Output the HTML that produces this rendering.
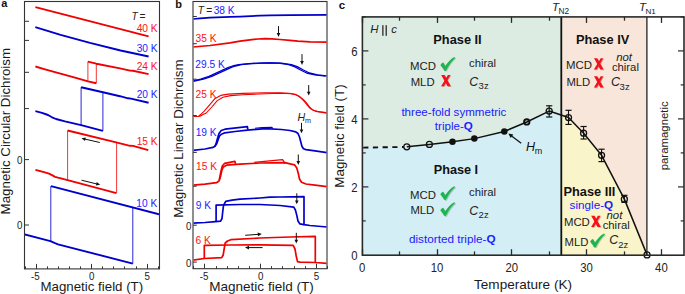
<!DOCTYPE html>
<html><head><meta charset="utf-8"><style>
html,body{margin:0;padding:0;background:#fff;}
body{width:685px;height:294px;overflow:hidden;}
svg{display:block;font-family:"Liberation Sans", sans-serif;}
</style></head><body>
<svg width="685" height="294" viewBox="0 0 685 294">
<defs><clipPath id="ca"><rect x="25" y="2" width="134" height="266.4"/></clipPath><clipPath id="cb"><rect x="193.7" y="2" width="132.8" height="266"/></clipPath></defs>
<rect width="685" height="294" fill="#fff"/>
<text x="1.2" y="6.5" font-size="11" fill="#111" text-anchor="start" font-weight="bold" font-style="normal" >a</text>
<text x="175.3" y="7.9" font-size="11" fill="#111" text-anchor="start" font-weight="bold" font-style="normal" >b</text>
<text x="338.8" y="9.2" font-size="11.5" fill="#111" text-anchor="start" font-weight="bold" font-style="normal" >c</text>
<rect x="24.5" y="1.5" width="135" height="267.4" fill="none" stroke="#333333" stroke-width="1.1"/>
<line x1="25.5" y1="268.9" x2="25.5" y2="266.4" stroke="#333333" stroke-width="1"/>
<line x1="36.5" y1="268.9" x2="36.5" y2="263.9" stroke="#333333" stroke-width="1"/>
<line x1="47.5" y1="268.9" x2="47.5" y2="266.4" stroke="#333333" stroke-width="1"/>
<line x1="58.5" y1="268.9" x2="58.5" y2="266.4" stroke="#333333" stroke-width="1"/>
<line x1="69.5" y1="268.9" x2="69.5" y2="266.4" stroke="#333333" stroke-width="1"/>
<line x1="80.5" y1="268.9" x2="80.5" y2="266.4" stroke="#333333" stroke-width="1"/>
<line x1="91.5" y1="268.9" x2="91.5" y2="263.9" stroke="#333333" stroke-width="1"/>
<line x1="102.5" y1="268.9" x2="102.5" y2="266.4" stroke="#333333" stroke-width="1"/>
<line x1="113.5" y1="268.9" x2="113.5" y2="266.4" stroke="#333333" stroke-width="1"/>
<line x1="124.5" y1="268.9" x2="124.5" y2="266.4" stroke="#333333" stroke-width="1"/>
<line x1="136.5" y1="268.9" x2="136.5" y2="266.4" stroke="#333333" stroke-width="1"/>
<line x1="147.5" y1="268.9" x2="147.5" y2="263.9" stroke="#333333" stroke-width="1"/>
<line x1="158.5" y1="268.9" x2="158.5" y2="266.4" stroke="#333333" stroke-width="1"/>
<line x1="24.5" y1="21.3" x2="29" y2="21.3" stroke="#333333" stroke-width="1"/>
<line x1="24.5" y1="40.4" x2="29" y2="40.4" stroke="#333333" stroke-width="1"/>
<line x1="24.5" y1="72.3" x2="29" y2="72.3" stroke="#333333" stroke-width="1"/>
<line x1="24.5" y1="108.6" x2="29" y2="108.6" stroke="#333333" stroke-width="1"/>
<line x1="24.5" y1="159.6" x2="29" y2="159.6" stroke="#333333" stroke-width="1"/>
<line x1="24.5" y1="225.0" x2="29" y2="225.0" stroke="#333333" stroke-width="1"/>
<text x="0" y="0" font-size="10.6" fill="#222" text-anchor="middle" font-weight="normal" font-style="normal" transform="translate(19.75,163.6) scale(0.92,1)">0</text>
<text x="0" y="0" font-size="10.6" fill="#222" text-anchor="middle" font-weight="normal" font-style="normal" transform="translate(19.75,229.0) scale(0.92,1)">0</text>
<text x="0" y="0" font-size="10.6" fill="#222" text-anchor="middle" font-weight="normal" font-style="normal" transform="translate(35.3,279.9) scale(0.92,1)">-5</text>
<text x="0" y="0" font-size="10.6" fill="#222" text-anchor="middle" font-weight="normal" font-style="normal" transform="translate(91.6,279.9) scale(0.92,1)">0</text>
<text x="0" y="0" font-size="10.6" fill="#222" text-anchor="middle" font-weight="normal" font-style="normal" transform="translate(147.1,279.9) scale(0.92,1)">5</text>
<text x="91.8" y="290.7" font-size="13.3" fill="#1a1a1a" text-anchor="middle" font-weight="normal" font-style="normal" >Magnetic field (T)</text>
<text x="0" y="0" font-size="13.32" fill="#1a1a1a" text-anchor="middle" font-weight="normal" font-style="normal" transform="translate(9.9,131.2) rotate(-90)">Magnetic Circular Dichroism</text>
<g clip-path="url(#ca)">
<polyline points="35.40,7.10 148.60,36.30" fill="none" stroke="#f00000" stroke-width="1.9" stroke-linejoin="round" stroke-linecap="butt" />
<polyline points="35.30,27.10 60.60,34.80 90.00,42.90 120.60,50.50 148.60,56.50" fill="none" stroke="#0000cc" stroke-width="1.9" stroke-linejoin="round" stroke-linecap="butt" />
<polyline points="35.40,66.50 45.00,69.30 55.00,72.10 65.00,74.80 75.00,77.60 88.00,81.40 96.30,83.30" fill="none" stroke="#f00000" stroke-width="1.9" stroke-linejoin="round" stroke-linecap="butt" />
<polyline points="96.30,83.30 96.30,63.70" fill="none" stroke="#f00000" stroke-width="0.8" stroke-linejoin="round" stroke-linecap="butt" />
<polyline points="87.90,61.60 96.30,63.70 120.00,68.40 130.00,70.60 133.00,70.80 148.60,74.10" fill="none" stroke="#f00000" stroke-width="1.9" stroke-linejoin="round" stroke-linecap="butt" />
<polyline points="87.90,61.60 87.90,81.40" fill="none" stroke="#f00000" stroke-width="0.8" stroke-linejoin="round" stroke-linecap="butt" />
<polyline points="35.40,111.20 42.00,112.80 48.00,115.00 52.00,117.30 56.00,119.00 65.00,121.40 81.10,125.20 102.90,130.90" fill="none" stroke="#0000cc" stroke-width="1.9" stroke-linejoin="round" stroke-linecap="butt" />
<polyline points="102.90,130.80 102.90,92.20" fill="none" stroke="#0000cc" stroke-width="0.85" stroke-linejoin="round" stroke-linecap="butt" />
<polyline points="81.10,87.20 102.90,92.20 120.00,96.20 128.00,98.30 131.00,98.60 148.60,102.70" fill="none" stroke="#0000cc" stroke-width="1.9" stroke-linejoin="round" stroke-linecap="butt" />
<polyline points="81.10,87.20 81.10,125.20" fill="none" stroke="#0000cc" stroke-width="0.85" stroke-linejoin="round" stroke-linecap="butt" />
<polyline points="35.40,169.80 44.00,172.20 49.00,173.60 52.00,175.20 55.00,176.80 58.00,177.70 67.60,180.10 116.40,193.10" fill="none" stroke="#f00000" stroke-width="1.9" stroke-linejoin="round" stroke-linecap="butt" />
<polyline points="116.60,193.10 116.60,142.40" fill="none" stroke="#f00000" stroke-width="0.8" stroke-linejoin="round" stroke-linecap="butt" />
<polyline points="67.60,130.50 116.20,142.40 130.00,145.80 133.00,145.90 148.30,150.20" fill="none" stroke="#f00000" stroke-width="1.9" stroke-linejoin="round" stroke-linecap="butt" />
<polyline points="67.60,130.50 67.60,179.80" fill="none" stroke="#f00000" stroke-width="0.8" stroke-linejoin="round" stroke-linecap="butt" />
<polyline points="24.60,234.50 50.40,241.20 55.00,243.20 58.00,244.30 132.80,263.60" fill="none" stroke="#0000cc" stroke-width="1.9" stroke-linejoin="round" stroke-linecap="butt" />
<polyline points="132.80,263.60 132.80,207.60" fill="none" stroke="#0000cc" stroke-width="0.85" stroke-linejoin="round" stroke-linecap="butt" />
<polyline points="51.00,186.10 159.00,214.30" fill="none" stroke="#0000cc" stroke-width="1.9" stroke-linejoin="round" stroke-linecap="butt" />
<polyline points="50.80,186.10 50.80,241.20" fill="none" stroke="#0000cc" stroke-width="0.85" stroke-linejoin="round" stroke-linecap="butt" />
</g>
<line x1="99.80" y1="142.50" x2="84.91" y2="139.08" stroke="#111" stroke-width="1.0"/>
<polygon points="81.50,138.30 85.80,137.44 85.00,140.95" fill="#111"/>
<line x1="81.60" y1="180.20" x2="96.80" y2="183.96" stroke="#111" stroke-width="1.0"/>
<polygon points="100.20,184.80 95.88,185.59 96.75,182.09" fill="#111"/>
<text x="131.5" y="20.3" font-size="10.2" fill="#222" text-anchor="start" font-weight="normal" font-style="italic" >T</text>
<text x="139.6" y="20.3" font-size="10.2" fill="#222" text-anchor="start" font-weight="normal" font-style="normal" >=</text>
<text x="157.6" y="31.6" font-size="10.2" fill="#ff1010" text-anchor="end" font-weight="normal" font-style="normal" >40 K</text>
<text x="157.6" y="52.0" font-size="10.2" fill="#2222ff" text-anchor="end" font-weight="normal" font-style="normal" >30 K</text>
<text x="157.6" y="70.4" font-size="10.2" fill="#ff1010" text-anchor="end" font-weight="normal" font-style="normal" >24 K</text>
<text x="157.6" y="97.6" font-size="10.2" fill="#2222ff" text-anchor="end" font-weight="normal" font-style="normal" >20 K</text>
<text x="157.6" y="144.5" font-size="10.2" fill="#ff1010" text-anchor="end" font-weight="normal" font-style="normal" >15 K</text>
<text x="157.2" y="206.6" font-size="10.2" fill="#2222ff" text-anchor="end" font-weight="normal" font-style="normal" >10 K</text>
<rect x="193" y="1.5" width="134" height="267.2" fill="none" stroke="#333333" stroke-width="1.1"/>
<line x1="193.5" y1="268.7" x2="193.5" y2="266.2" stroke="#333333" stroke-width="1"/>
<line x1="204.5" y1="268.7" x2="204.5" y2="263.7" stroke="#333333" stroke-width="1"/>
<line x1="216.5" y1="268.7" x2="216.5" y2="266.2" stroke="#333333" stroke-width="1"/>
<line x1="227.5" y1="268.7" x2="227.5" y2="266.2" stroke="#333333" stroke-width="1"/>
<line x1="238.5" y1="268.7" x2="238.5" y2="266.2" stroke="#333333" stroke-width="1"/>
<line x1="249.5" y1="268.7" x2="249.5" y2="266.2" stroke="#333333" stroke-width="1"/>
<line x1="260.5" y1="268.7" x2="260.5" y2="263.7" stroke="#333333" stroke-width="1"/>
<line x1="271.5" y1="268.7" x2="271.5" y2="266.2" stroke="#333333" stroke-width="1"/>
<line x1="282.5" y1="268.7" x2="282.5" y2="266.2" stroke="#333333" stroke-width="1"/>
<line x1="294.5" y1="268.7" x2="294.5" y2="266.2" stroke="#333333" stroke-width="1"/>
<line x1="305.5" y1="268.7" x2="305.5" y2="266.2" stroke="#333333" stroke-width="1"/>
<line x1="316.5" y1="268.7" x2="316.5" y2="263.7" stroke="#333333" stroke-width="1"/>
<line x1="327.5" y1="268.7" x2="327.5" y2="266.2" stroke="#333333" stroke-width="1"/>
<line x1="193" y1="16.5" x2="196.8" y2="16.5" stroke="#333333" stroke-width="1"/>
<line x1="193" y1="43.7" x2="196.8" y2="43.7" stroke="#333333" stroke-width="1"/>
<line x1="193" y1="79.2" x2="196.8" y2="79.2" stroke="#333333" stroke-width="1"/>
<line x1="193" y1="115.5" x2="196.8" y2="115.5" stroke="#333333" stroke-width="1"/>
<line x1="193" y1="152.4" x2="196.8" y2="152.4" stroke="#333333" stroke-width="1"/>
<line x1="193" y1="186.2" x2="196.8" y2="186.2" stroke="#333333" stroke-width="1"/>
<line x1="193" y1="225.2" x2="196.8" y2="225.2" stroke="#333333" stroke-width="1"/>
<line x1="193" y1="262.1" x2="196.8" y2="262.1" stroke="#333333" stroke-width="1"/>
<text x="0" y="0" font-size="10.6" fill="#222" text-anchor="middle" font-weight="normal" font-style="normal" transform="translate(188.6,230.0) scale(0.92,1)">0</text>
<text x="0" y="0" font-size="10.6" fill="#222" text-anchor="middle" font-weight="normal" font-style="normal" transform="translate(188.6,266.9) scale(0.92,1)">0</text>
<text x="0" y="0" font-size="10.6" fill="#222" text-anchor="middle" font-weight="normal" font-style="normal" transform="translate(204.05,279.9) scale(0.92,1)">-5</text>
<text x="0" y="0" font-size="10.6" fill="#222" text-anchor="middle" font-weight="normal" font-style="normal" transform="translate(260.6,279.9) scale(0.92,1)">0</text>
<text x="0" y="0" font-size="10.6" fill="#222" text-anchor="middle" font-weight="normal" font-style="normal" transform="translate(316.35,279.9) scale(0.92,1)">5</text>
<text x="261.5" y="290.7" font-size="13.55" fill="#1a1a1a" text-anchor="middle" font-weight="normal" font-style="normal" >Magnetic field (T)</text>
<g clip-path="url(#cb)">
<polyline points="193.00,19.00 200.00,18.40 210.00,17.70 230.00,16.90 240.00,16.60 260.00,15.70 270.00,15.30 290.00,15.10 327.00,14.80" fill="none" stroke="#0000cc" stroke-width="1.7" stroke-linejoin="round" stroke-linecap="butt" />
<polyline points="193.00,47.00 210.00,45.50 230.00,42.80 240.00,41.20 250.00,39.90 258.00,39.00 265.00,38.60 272.00,38.80 280.00,39.50 290.00,40.40 298.00,41.20 310.00,41.80 327.00,42.20" fill="none" stroke="#f00000" stroke-width="1.7" stroke-linejoin="round" stroke-linecap="butt" />
<polyline points="189.60,81.30 191.60,81.20 200.60,79.20 209.00,76.30 216.60,72.80 225.30,68.90 228.60,67.40 232.60,66.00 238.60,64.70 248.60,63.70 258.60,63.10 268.60,62.90 278.60,63.10 288.60,64.60 294.40,66.60 300.60,70.00 306.60,73.00 314.80,74.90 325.60,76.10" fill="none" stroke="#0000cc" stroke-width="1.3" stroke-linejoin="round" stroke-linecap="butt" />
<polyline points="192.40,81.30 194.40,81.20 203.40,79.20 211.80,76.30 219.40,72.80 228.10,68.90 231.40,67.40 235.40,66.00 241.40,64.70 251.40,63.70 261.40,63.10 271.40,62.90 281.40,63.10 291.40,64.60 297.20,66.60 303.40,70.00 309.40,73.00 317.60,74.90 328.40,76.10" fill="none" stroke="#0000cc" stroke-width="1.3" stroke-linejoin="round" stroke-linecap="butt" />
<polyline points="191.00,116.60 198.50,116.20 201.00,114.20 204.00,111.40 209.60,104.80 215.10,98.40 220.70,95.40 228.40,94.10 243.00,93.40 265.00,92.70 279.30,92.70 289.30,93.20 295.10,94.30 298.30,96.00 300.60,97.80 302.80,99.90 305.10,102.30 307.30,105.20 309.50,107.80 311.80,109.50 313.90,110.50 317.30,111.40 320.50,111.80 326.30,112.60" fill="none" stroke="#f00000" stroke-width="1.1" stroke-linejoin="round" stroke-linecap="butt" />
<polyline points="191.00,116.60 200.00,116.20 203.00,114.60 206.30,113.00 211.80,107.00 217.30,100.60 222.90,97.20 230.60,95.60 243.00,94.70 265.00,93.70 280.70,93.30 290.70,93.80 296.50,94.90 299.70,96.60 302.00,98.40 304.20,100.50 306.50,102.90 308.70,105.80 310.90,108.40 313.20,110.10 315.30,111.10 318.70,112.00 321.90,112.40 327.70,113.20" fill="none" stroke="#f00000" stroke-width="1.1" stroke-linejoin="round" stroke-linecap="butt" />
<polyline points="193.00,150.30 205.00,149.00 212.90,147.40 215.00,146.20 216.80,143.50 218.20,139.50 219.60,135.80 221.50,134.20 224.80,132.80 235.00,131.50 247.40,130.20 265.00,128.60 281.50,129.50 290.00,130.50 295.80,131.80 298.00,133.50 299.50,137.00 300.80,142.00 302.00,146.50 303.50,148.80 306.00,149.60 315.00,150.80 327.00,152.70" fill="none" stroke="#0000cc" stroke-width="1.7" stroke-linejoin="round" stroke-linecap="butt" />
<polyline points="215.00,146.20 216.20,143.00 217.50,138.50 219.00,133.50 221.20,130.50 225.00,129.20 247.40,126.70 247.80,129.30" fill="none" stroke="#0000cc" stroke-width="1.7" stroke-linejoin="round" stroke-linecap="butt" />
<polyline points="255.00,128.30 262.00,127.60 272.00,127.30 272.60,128.80" fill="none" stroke="#0000cc" stroke-width="1.1" stroke-linejoin="round" stroke-linecap="butt" />
<polyline points="193.00,185.10 205.00,184.20 216.50,182.70 219.00,181.00 220.50,176.50 221.80,170.50 223.30,167.00 226.50,165.20 240.00,164.20 260.00,163.00 284.80,162.70 294.50,164.80 296.80,168.00 298.30,173.50 299.50,179.00 301.50,182.20 306.00,184.00 315.00,185.20 327.00,186.70" fill="none" stroke="#f00000" stroke-width="1.7" stroke-linejoin="round" stroke-linecap="butt" />
<polyline points="219.30,180.00 220.80,172.00 222.30,166.00 224.70,163.30 234.90,161.30 235.60,163.90" fill="none" stroke="#f00000" stroke-width="1.7" stroke-linejoin="round" stroke-linecap="butt" />
<polyline points="254.20,162.30 282.60,159.70 285.30,163.60" fill="none" stroke="#f00000" stroke-width="1.2" stroke-linejoin="round" stroke-linecap="butt" />
<polyline points="193.00,223.20 205.00,222.50 215.50,221.60 220.60,221.10 222.00,218.50 222.70,212.00 223.50,205.50 225.70,201.30 232.00,200.20 240.00,199.20 260.00,198.00 270.00,197.20 280.00,197.00 304.00,196.70 304.00,224.60 310.00,225.50 327.00,227.00" fill="none" stroke="#0000cc" stroke-width="1.7" stroke-linejoin="round" stroke-linecap="butt" />
<polyline points="216.10,221.60 216.10,205.20 240.00,204.50 260.00,204.50 280.00,205.50 293.80,207.20 295.40,210.00 296.80,215.40 298.00,221.00 299.80,223.80 304.00,224.60" fill="none" stroke="#0000cc" stroke-width="1.7" stroke-linejoin="round" stroke-linecap="butt" />
<polyline points="193.00,260.20 204.30,258.50 221.70,257.70 223.20,255.00 224.30,248.00 225.20,243.00 227.50,241.00 230.90,239.70 260.00,238.00 290.00,237.00 315.30,236.30 315.30,262.50 327.00,263.40" fill="none" stroke="#f00000" stroke-width="1.7" stroke-linejoin="round" stroke-linecap="butt" />
<polyline points="204.30,258.70 204.30,245.40 230.00,245.00 260.00,244.90 293.20,245.40 295.00,249.00 296.20,256.00 297.50,261.60 300.00,262.20 315.30,262.50" fill="none" stroke="#f00000" stroke-width="1.7" stroke-linejoin="round" stroke-linecap="butt" />
</g>
<line x1="245.20" y1="235.30" x2="258.31" y2="234.35" stroke="#111" stroke-width="1.0"/>
<polygon points="261.80,234.10 257.94,236.18 257.68,232.59" fill="#111"/>
<line x1="262.60" y1="247.60" x2="248.50" y2="247.60" stroke="#111" stroke-width="1.0"/>
<polygon points="245.00,247.60 249.00,245.80 249.00,249.40" fill="#111"/>
<line x1="278.50" y1="26.10" x2="278.50" y2="33.60" stroke="#111" stroke-width="1.0"/>
<polygon points="278.50,36.90 276.70,33.10 280.30,33.10" fill="#111"/>
<line x1="302.00" y1="54.10" x2="302.00" y2="61.60" stroke="#111" stroke-width="1.0"/>
<polygon points="302.00,64.90 300.20,61.10 303.80,61.10" fill="#111"/>
<line x1="308.70" y1="85.10" x2="308.70" y2="92.20" stroke="#111" stroke-width="1.0"/>
<polygon points="308.70,95.50 306.90,91.70 310.50,91.70" fill="#111"/>
<line x1="301.50" y1="122.90" x2="301.50" y2="130.00" stroke="#111" stroke-width="1.0"/>
<polygon points="301.50,133.30 299.70,129.50 303.30,129.50" fill="#111"/>
<line x1="298.30" y1="154.50" x2="298.30" y2="161.60" stroke="#111" stroke-width="1.0"/>
<polygon points="298.30,164.90 296.50,161.10 300.10,161.10" fill="#111"/>
<line x1="296.80" y1="193.30" x2="296.80" y2="201.00" stroke="#111" stroke-width="1.0"/>
<polygon points="296.80,204.30 295.00,200.50 298.60,200.50" fill="#111"/>
<line x1="296.30" y1="232.80" x2="296.30" y2="240.30" stroke="#111" stroke-width="1.0"/>
<polygon points="296.30,243.60 294.50,239.80 298.10,239.80" fill="#111"/>
<text x="197.7" y="14.0" font-size="10.2" fill="#222" text-anchor="start" font-weight="normal" font-style="italic" >T</text>
<text x="206.2" y="14.0" font-size="10.2" fill="#222" text-anchor="start" font-weight="normal" font-style="normal" >=</text>
<text x="213.7" y="14.0" font-size="10.2" fill="#2222ff" text-anchor="start" font-weight="normal" font-style="normal" >38 K</text>
<text x="195.6" y="41.8" font-size="10.2" fill="#ff1010" text-anchor="start" font-weight="normal" font-style="normal" >35 K</text>
<text x="195.3" y="67.5" font-size="10.2" fill="#2222ff" text-anchor="start" font-weight="normal" font-style="normal" >29.5 K</text>
<text x="195.6" y="98.0" font-size="10.2" fill="#ff1010" text-anchor="start" font-weight="normal" font-style="normal" >25 K</text>
<text x="195.7" y="135.7" font-size="10.2" fill="#2222ff" text-anchor="start" font-weight="normal" font-style="normal" >19 K</text>
<text x="196.0" y="169.8" font-size="10.2" fill="#ff1010" text-anchor="start" font-weight="normal" font-style="normal" >15 K</text>
<text x="195.7" y="209.2" font-size="10.2" fill="#2222ff" text-anchor="start" font-weight="normal" font-style="normal" >9 K</text>
<text x="195.6" y="244.0" font-size="10.2" fill="#ff1010" text-anchor="start" font-weight="normal" font-style="normal" >6 K</text>
<text x="297.4" y="120.9" font-size="10.6" fill="#222" text-anchor="start" font-weight="normal" font-style="italic" >H</text>
<text x="304.9" y="122.8" font-size="7.2" fill="#222" text-anchor="start" font-weight="normal" font-style="normal" >m</text>
<text x="0" y="0" font-size="13.4" fill="#1a1a1a" text-anchor="middle" font-weight="normal" font-style="normal" transform="translate(183.3,138.6) rotate(-90)">Magnetic Linear Dichroism</text>
<polygon points="362.40,16.90 561.30,16.90 561.30,115.13 549.20,111.08 526.76,121.96 504.32,131.48 474.33,138.62 452.48,141.68 429.37,144.40 406.78,146.78 362.40,148.00" fill="#ddece2" stroke="none"/>
<polygon points="362.40,148.00 406.78,146.78 429.37,144.40 452.48,141.68 474.33,138.62 504.32,131.48 526.76,121.96 549.20,111.08 561.30,115.13 561.30,255.20 362.40,255.20" fill="#d3eef5" stroke="none"/>
<polygon points="561.30,16.90 646.90,16.90 646.90,255.20 647.04,254.90 624.37,199.14 601.56,155.28 583.61,133.18 568.50,117.54 561.30,115.13" fill="#f7e6d9" stroke="none"/>
<polygon points="561.30,115.13 568.50,117.54 583.61,133.18 601.56,155.28 624.37,199.14 647.04,254.90 561.30,255.20" fill="#f9f4ca" stroke="none"/>
<line x1="363.2" y1="147.6" x2="403.7808" y2="146.98" stroke="#111" stroke-width="1.9" stroke-dasharray="5.2,4.5"/>
<polyline points="406.78,146.78 429.37,144.40 452.48,141.68 474.33,138.62 504.32,131.48 526.76,121.96 549.20,111.08 568.50,117.54 583.61,133.18 601.56,155.28 624.37,199.14 647.04,254.90" fill="none" stroke="#111" stroke-width="1.5" stroke-linejoin="round" stroke-linecap="butt" />
<line x1="561.3" y1="16.9" x2="561.3" y2="255.2" stroke="#111" stroke-width="1.8"/>
<line x1="646.9" y1="16.9" x2="646.9" y2="255.2" stroke="#222" stroke-width="1.3"/>
<line x1="549.2" y1="105.8" x2="549.2" y2="117.0" stroke="#111" stroke-width="1.1"/>
<line x1="546.1" y1="105.8" x2="552.3000000000001" y2="105.8" stroke="#111" stroke-width="1.2"/>
<line x1="546.1" y1="117.0" x2="552.3000000000001" y2="117.0" stroke="#111" stroke-width="1.2"/>
<line x1="568.4984" y1="110.3" x2="568.4984" y2="124.4" stroke="#111" stroke-width="1.1"/>
<line x1="565.3983999999999" y1="110.3" x2="571.5984" y2="110.3" stroke="#111" stroke-width="1.2"/>
<line x1="565.3983999999999" y1="124.4" x2="571.5984" y2="124.4" stroke="#111" stroke-width="1.2"/>
<line x1="583.608" y1="126.5" x2="583.608" y2="139.0" stroke="#111" stroke-width="1.1"/>
<line x1="580.5079999999999" y1="126.5" x2="586.708" y2="126.5" stroke="#111" stroke-width="1.2"/>
<line x1="580.5079999999999" y1="139.0" x2="586.708" y2="139.0" stroke="#111" stroke-width="1.2"/>
<line x1="601.56" y1="149.2" x2="601.56" y2="161.6" stroke="#111" stroke-width="1.1"/>
<line x1="598.4599999999999" y1="149.2" x2="604.66" y2="149.2" stroke="#111" stroke-width="1.2"/>
<line x1="598.4599999999999" y1="161.6" x2="604.66" y2="161.6" stroke="#111" stroke-width="1.2"/>
<line x1="624.374" y1="195.3" x2="624.374" y2="202.3" stroke="#111" stroke-width="1.1"/>
<line x1="621.274" y1="195.3" x2="627.474" y2="195.3" stroke="#111" stroke-width="1.2"/>
<line x1="621.274" y1="202.3" x2="627.474" y2="202.3" stroke="#111" stroke-width="1.2"/>
<circle cx="406.78" cy="146.78" r="3.0" fill="none" stroke="#111" stroke-width="1.3"/>
<circle cx="429.37" cy="144.40" r="3.0" fill="none" stroke="#111" stroke-width="1.3"/>
<circle cx="452.48" cy="141.68" r="3.25" fill="#111"/>
<circle cx="474.33" cy="138.62" r="3.25" fill="#111"/>
<circle cx="504.32" cy="131.48" r="3.25" fill="#111"/>
<circle cx="526.76" cy="121.96" r="2.7" fill="none" stroke="#111" stroke-width="1.9"/>
<circle cx="549.20" cy="111.08" r="3.0" fill="none" stroke="#111" stroke-width="1.3"/>
<circle cx="568.50" cy="117.54" r="3.0" fill="none" stroke="#111" stroke-width="1.3"/>
<circle cx="583.61" cy="133.18" r="3.0" fill="none" stroke="#111" stroke-width="1.3"/>
<circle cx="601.56" cy="155.28" r="3.0" fill="none" stroke="#111" stroke-width="1.3"/>
<circle cx="624.37" cy="199.14" r="3.0" fill="none" stroke="#111" stroke-width="1.3"/>
<circle cx="647.04" cy="254.90" r="3.0" fill="none" stroke="#111" stroke-width="1.3"/>
<rect x="362.4" y="16.9" width="321.6" height="238.29999999999998" fill="none" stroke="#2a2a2a" stroke-width="1.6"/>
<line x1="362.5" y1="255.2" x2="362.5" y2="249.2" stroke="#2a2a2a" stroke-width="1.3"/>
<line x1="362.5" y1="16.9" x2="362.5" y2="22.9" stroke="#2a2a2a" stroke-width="1.3"/>
<line x1="399.5" y1="255.2" x2="399.5" y2="251.39999999999998" stroke="#2a2a2a" stroke-width="1.3"/>
<line x1="399.5" y1="16.9" x2="399.5" y2="20.7" stroke="#2a2a2a" stroke-width="1.3"/>
<line x1="437.5" y1="255.2" x2="437.5" y2="249.2" stroke="#2a2a2a" stroke-width="1.3"/>
<line x1="437.5" y1="16.9" x2="437.5" y2="22.9" stroke="#2a2a2a" stroke-width="1.3"/>
<line x1="474.5" y1="255.2" x2="474.5" y2="251.39999999999998" stroke="#2a2a2a" stroke-width="1.3"/>
<line x1="474.5" y1="16.9" x2="474.5" y2="20.7" stroke="#2a2a2a" stroke-width="1.3"/>
<line x1="511.5" y1="255.2" x2="511.5" y2="249.2" stroke="#2a2a2a" stroke-width="1.3"/>
<line x1="511.5" y1="16.9" x2="511.5" y2="22.9" stroke="#2a2a2a" stroke-width="1.3"/>
<line x1="549.5" y1="255.2" x2="549.5" y2="251.39999999999998" stroke="#2a2a2a" stroke-width="1.3"/>
<line x1="549.5" y1="16.9" x2="549.5" y2="20.7" stroke="#2a2a2a" stroke-width="1.3"/>
<line x1="586.5" y1="255.2" x2="586.5" y2="249.2" stroke="#2a2a2a" stroke-width="1.3"/>
<line x1="586.5" y1="16.9" x2="586.5" y2="22.9" stroke="#2a2a2a" stroke-width="1.3"/>
<line x1="624.5" y1="255.2" x2="624.5" y2="251.39999999999998" stroke="#2a2a2a" stroke-width="1.3"/>
<line x1="624.5" y1="16.9" x2="624.5" y2="20.7" stroke="#2a2a2a" stroke-width="1.3"/>
<line x1="661.5" y1="255.2" x2="661.5" y2="249.2" stroke="#2a2a2a" stroke-width="1.3"/>
<line x1="661.5" y1="16.9" x2="661.5" y2="22.9" stroke="#2a2a2a" stroke-width="1.3"/>
<line x1="362.4" y1="220.9" x2="365.7" y2="220.9" stroke="#2a2a2a" stroke-width="1.2"/>
<line x1="684" y1="220.9" x2="680.7" y2="220.9" stroke="#2a2a2a" stroke-width="1.2"/>
<line x1="362.4" y1="186.9" x2="368.4" y2="186.9" stroke="#2a2a2a" stroke-width="1.2"/>
<line x1="684" y1="186.9" x2="678" y2="186.9" stroke="#2a2a2a" stroke-width="1.2"/>
<line x1="362.4" y1="152.9" x2="365.7" y2="152.9" stroke="#2a2a2a" stroke-width="1.2"/>
<line x1="684" y1="152.9" x2="680.7" y2="152.9" stroke="#2a2a2a" stroke-width="1.2"/>
<line x1="362.4" y1="118.9" x2="368.4" y2="118.9" stroke="#2a2a2a" stroke-width="1.2"/>
<line x1="684" y1="118.9" x2="678" y2="118.9" stroke="#2a2a2a" stroke-width="1.2"/>
<line x1="362.4" y1="84.9" x2="365.7" y2="84.9" stroke="#2a2a2a" stroke-width="1.2"/>
<line x1="684" y1="84.9" x2="680.7" y2="84.9" stroke="#2a2a2a" stroke-width="1.2"/>
<line x1="362.4" y1="50.900000000000006" x2="368.4" y2="50.900000000000006" stroke="#2a2a2a" stroke-width="1.2"/>
<line x1="684" y1="50.900000000000006" x2="678" y2="50.900000000000006" stroke="#2a2a2a" stroke-width="1.2"/>
<line x1="362.4" y1="16.900000000000006" x2="365.7" y2="16.900000000000006" stroke="#2a2a2a" stroke-width="1.2"/>
<line x1="684" y1="16.900000000000006" x2="680.7" y2="16.900000000000006" stroke="#2a2a2a" stroke-width="1.2"/>
<text x="0" y="0" font-size="12.2" fill="#222" text-anchor="middle" font-weight="normal" font-style="normal" transform="translate(354.3,259.8) scale(0.93,1)">0</text>
<text x="0" y="0" font-size="12.2" fill="#222" text-anchor="middle" font-weight="normal" font-style="normal" transform="translate(354.3,191.8) scale(0.93,1)">2</text>
<text x="0" y="0" font-size="12.2" fill="#222" text-anchor="middle" font-weight="normal" font-style="normal" transform="translate(354.3,123.80000000000001) scale(0.93,1)">4</text>
<text x="0" y="0" font-size="12.2" fill="#222" text-anchor="middle" font-weight="normal" font-style="normal" transform="translate(354.3,55.800000000000004) scale(0.93,1)">6</text>
<text x="0" y="0" font-size="12.2" fill="#222" text-anchor="middle" font-weight="normal" font-style="normal" transform="translate(362.2,271.9) scale(0.93,1)">0</text>
<text x="0" y="0" font-size="12.2" fill="#222" text-anchor="middle" font-weight="normal" font-style="normal" transform="translate(437.0,271.9) scale(0.93,1)">10</text>
<text x="0" y="0" font-size="12.2" fill="#222" text-anchor="middle" font-weight="normal" font-style="normal" transform="translate(511.8,271.9) scale(0.93,1)">20</text>
<text x="0" y="0" font-size="12.2" fill="#222" text-anchor="middle" font-weight="normal" font-style="normal" transform="translate(586.6,271.9) scale(0.93,1)">30</text>
<text x="0" y="0" font-size="12.2" fill="#222" text-anchor="middle" font-weight="normal" font-style="normal" transform="translate(661.4000000000001,271.9) scale(0.93,1)">40</text>
<text x="523.0" y="289.1" font-size="13.55" fill="#1a1a1a" text-anchor="middle" font-weight="normal" font-style="normal" >Temperature (K)</text>
<text x="0" y="0" font-size="13.4" fill="#1a1a1a" text-anchor="middle" font-weight="normal" font-style="normal" transform="translate(344.3,136.0) rotate(-90)">Magnetic field (T)</text>
<text x="552.0" y="10.7" font-size="11.5" fill="#222" text-anchor="start" font-weight="normal" font-style="italic" >T</text>
<text x="558.4" y="13.5" font-size="8.3" fill="#222" text-anchor="start" font-weight="normal" font-style="normal" >N2</text>
<text x="639.0" y="10.7" font-size="11.5" fill="#222" text-anchor="start" font-weight="normal" font-style="italic" >T</text>
<text x="645.4" y="13.5" font-size="8.1" fill="#222" text-anchor="start" font-weight="normal" font-style="normal" >N1</text>
<text x="0" y="0" font-size="11.4" fill="#222" text-anchor="middle" font-weight="normal" font-style="normal" transform="translate(667.9,135.8) rotate(-90)">paramagnetic</text>
<text x="370.2" y="33.1" font-size="11.4" fill="#222" text-anchor="start" font-weight="normal" font-style="italic" >H</text>
<rect x="382.1" y="25.2" width="1.5" height="10.6" fill="#444"/>
<rect x="385.5" y="25.2" width="1.5" height="10.6" fill="#444"/>
<text x="391.3" y="33.1" font-size="11.4" fill="#222" text-anchor="start" font-weight="normal" font-style="italic" >c</text>
<text x="433.3" y="43.8" font-size="12.8" fill="#111" text-anchor="start" font-weight="bold" font-style="normal" >Phase II</text>
<text x="410.0" y="70.4" font-size="11.4" fill="#222" text-anchor="start" font-weight="normal" font-style="normal" >MCD</text>
<g transform="translate(440.4,57.1) scale(1.0)"><path d="M0,8.2 C0.6,6.7 2.0,5.7 3.0,5.5 L4.8,9.0 C7.5,5.0 10.5,1.8 14.0,0 L14.8,0.8 C11.2,3.8 8.2,8.2 5.6,13.6 L3.8,13.6 C2.8,11.4 1.4,9.6 0,8.2 Z" fill="#7fa58a" opacity="0.55" transform="translate(0.9,0.9)"/><path d="M0,8.2 C0.6,6.7 2.0,5.7 3.0,5.5 L4.8,9.0 C7.5,5.0 10.5,1.8 14.0,0 L14.8,0.8 C11.2,3.8 8.2,8.2 5.6,13.6 L3.8,13.6 C2.8,11.4 1.4,9.6 0,8.2 Z" fill="#1db550"/></g>
<text x="469.0" y="67.1" font-size="11.3" fill="#222" text-anchor="start" font-weight="normal" font-style="normal" >chiral</text>
<text x="410.7" y="85.9" font-size="11.3" fill="#222" text-anchor="start" font-weight="normal" font-style="normal" >MLD</text>
<g transform="translate(440.9,74.9) scale(1.0)"><g fill="#a07070" opacity="0.45" transform="translate(0.8,0.7)"><path d="M0.3,0 L3.6,0 L9.9,11.3 L6.6,11.3 Z"/><path d="M7.0,0 L9.6,0 L3.0,11.3 L0.2,11.3 Z"/></g><g fill="#f5101a"><path d="M0.3,0 L3.6,0 L9.9,11.3 L6.6,11.3 Z"/><path d="M7.0,0 L9.6,0 L3.0,11.3 L0.2,11.3 Z"/></g></g>
<text x="469.2" y="85.7" font-size="12.5" fill="#222" text-anchor="start" font-weight="normal" font-style="italic" >C</text>
<text x="478.6" y="89.3" font-size="9.5" fill="#222" text-anchor="start" font-weight="normal" font-style="normal" >3z</text>
<text x="401.4" y="115.5" font-size="11.6" fill="#2020ff" text-anchor="start" font-weight="normal" font-style="normal" >three-fold symmetric</text>
<text x="434.8" y="129.9" font-size="11.6" fill="#2020ff" text-anchor="start" font-weight="normal" font-style="normal" >triple-<tspan font-weight="bold">Q</tspan></text>
<text x="575.9" y="43.9" font-size="12.8" fill="#111" text-anchor="start" font-weight="bold" font-style="normal" >Phase IV</text>
<text x="566.0" y="68.9" font-size="11.4" fill="#222" text-anchor="start" font-weight="normal" font-style="normal" >MCD</text>
<g transform="translate(593.7,58.3) scale(1.0)"><g fill="#a07070" opacity="0.45" transform="translate(0.8,0.7)"><path d="M0.3,0 L3.6,0 L9.9,11.3 L6.6,11.3 Z"/><path d="M7.0,0 L9.6,0 L3.0,11.3 L0.2,11.3 Z"/></g><g fill="#f5101a"><path d="M0.3,0 L3.6,0 L9.9,11.3 L6.6,11.3 Z"/><path d="M7.0,0 L9.6,0 L3.0,11.3 L0.2,11.3 Z"/></g></g>
<text x="616.2" y="61.3" font-size="11.4" fill="#222" text-anchor="start" font-weight="normal" font-style="italic" >not</text>
<text x="611.9" y="71.3" font-size="11.3" fill="#222" text-anchor="start" font-weight="normal" font-style="normal" >chiral</text>
<text x="566.4" y="86.4" font-size="11.3" fill="#222" text-anchor="start" font-weight="normal" font-style="normal" >MLD</text>
<g transform="translate(593.7,76.3) scale(1.0)"><g fill="#a07070" opacity="0.45" transform="translate(0.8,0.7)"><path d="M0.3,0 L3.6,0 L9.9,11.3 L6.6,11.3 Z"/><path d="M7.0,0 L9.6,0 L3.0,11.3 L0.2,11.3 Z"/></g><g fill="#f5101a"><path d="M0.3,0 L3.6,0 L9.9,11.3 L6.6,11.3 Z"/><path d="M7.0,0 L9.6,0 L3.0,11.3 L0.2,11.3 Z"/></g></g>
<text x="610.9" y="86.4" font-size="12.5" fill="#222" text-anchor="start" font-weight="normal" font-style="italic" >C</text>
<text x="619.6" y="90.0" font-size="9.5" fill="#222" text-anchor="start" font-weight="normal" font-style="normal" >3z</text>
<text x="433.7" y="173.5" font-size="12.7" fill="#111" text-anchor="start" font-weight="bold" font-style="normal" >Phase I</text>
<text x="410.0" y="198.8" font-size="11.4" fill="#222" text-anchor="start" font-weight="normal" font-style="normal" >MCD</text>
<g transform="translate(440.3,186.2) scale(1.0)"><path d="M0,8.2 C0.6,6.7 2.0,5.7 3.0,5.5 L4.8,9.0 C7.5,5.0 10.5,1.8 14.0,0 L14.8,0.8 C11.2,3.8 8.2,8.2 5.6,13.6 L3.8,13.6 C2.8,11.4 1.4,9.6 0,8.2 Z" fill="#7fa58a" opacity="0.55" transform="translate(0.9,0.9)"/><path d="M0,8.2 C0.6,6.7 2.0,5.7 3.0,5.5 L4.8,9.0 C7.5,5.0 10.5,1.8 14.0,0 L14.8,0.8 C11.2,3.8 8.2,8.2 5.6,13.6 L3.8,13.6 C2.8,11.4 1.4,9.6 0,8.2 Z" fill="#1db550"/></g>
<text x="469.0" y="195.9" font-size="11.3" fill="#222" text-anchor="start" font-weight="normal" font-style="normal" >chiral</text>
<text x="410.4" y="213.8" font-size="11.3" fill="#222" text-anchor="start" font-weight="normal" font-style="normal" >MLD</text>
<g transform="translate(440.3,202.2) scale(1.0)"><path d="M0,8.2 C0.6,6.7 2.0,5.7 3.0,5.5 L4.8,9.0 C7.5,5.0 10.5,1.8 14.0,0 L14.8,0.8 C11.2,3.8 8.2,8.2 5.6,13.6 L3.8,13.6 C2.8,11.4 1.4,9.6 0,8.2 Z" fill="#7fa58a" opacity="0.55" transform="translate(0.9,0.9)"/><path d="M0,8.2 C0.6,6.7 2.0,5.7 3.0,5.5 L4.8,9.0 C7.5,5.0 10.5,1.8 14.0,0 L14.8,0.8 C11.2,3.8 8.2,8.2 5.6,13.6 L3.8,13.6 C2.8,11.4 1.4,9.6 0,8.2 Z" fill="#1db550"/></g>
<text x="469.2" y="214.6" font-size="12.5" fill="#222" text-anchor="start" font-weight="normal" font-style="italic" >C</text>
<text x="478.6" y="218.0" font-size="9.5" fill="#222" text-anchor="start" font-weight="normal" font-style="normal" >2z</text>
<text x="409.0" y="242.8" font-size="11.72" fill="#2020ff" text-anchor="start" font-weight="normal" font-style="normal" >distorted triple-<tspan font-weight="bold">Q</tspan></text>
<text x="563.5" y="195.9" font-size="12.8" fill="#111" text-anchor="start" font-weight="bold" font-style="normal" >Phase III</text>
<text x="569.6" y="208.9" font-size="11.7" fill="#2020ff" text-anchor="start" font-weight="normal" font-style="normal" >single-<tspan font-weight="bold">Q</tspan></text>
<text x="563.9" y="225.9" font-size="11.4" fill="#222" text-anchor="start" font-weight="normal" font-style="normal" >MCD</text>
<g transform="translate(590.9,215.7) scale(1.0)"><g fill="#a07070" opacity="0.45" transform="translate(0.8,0.7)"><path d="M0.3,0 L3.6,0 L9.9,11.3 L6.6,11.3 Z"/><path d="M7.0,0 L9.6,0 L3.0,11.3 L0.2,11.3 Z"/></g><g fill="#f5101a"><path d="M0.3,0 L3.6,0 L9.9,11.3 L6.6,11.3 Z"/><path d="M7.0,0 L9.6,0 L3.0,11.3 L0.2,11.3 Z"/></g></g>
<text x="606.5" y="218.8" font-size="11.4" fill="#222" text-anchor="start" font-weight="normal" font-style="italic" >not</text>
<text x="602.7" y="228.6" font-size="11.3" fill="#222" text-anchor="start" font-weight="normal" font-style="normal" >chiral</text>
<text x="564.5" y="246.3" font-size="11.3" fill="#222" text-anchor="start" font-weight="normal" font-style="normal" >MLD</text>
<g transform="translate(590.1,233.6) scale(1.0)"><path d="M0,8.2 C0.6,6.7 2.0,5.7 3.0,5.5 L4.8,9.0 C7.5,5.0 10.5,1.8 14.0,0 L14.8,0.8 C11.2,3.8 8.2,8.2 5.6,13.6 L3.8,13.6 C2.8,11.4 1.4,9.6 0,8.2 Z" fill="#7fa58a" opacity="0.55" transform="translate(0.9,0.9)"/><path d="M0,8.2 C0.6,6.7 2.0,5.7 3.0,5.5 L4.8,9.0 C7.5,5.0 10.5,1.8 14.0,0 L14.8,0.8 C11.2,3.8 8.2,8.2 5.6,13.6 L3.8,13.6 C2.8,11.4 1.4,9.6 0,8.2 Z" fill="#1db550"/></g>
<text x="609.2" y="244.3" font-size="12.5" fill="#222" text-anchor="start" font-weight="normal" font-style="italic" >C</text>
<text x="618.2" y="247.6" font-size="9.5" fill="#222" text-anchor="start" font-weight="normal" font-style="normal" >2z</text>
<text x="526.1" y="151.2" font-size="12.5" fill="#111" text-anchor="start" font-weight="normal" font-style="italic" >H</text>
<text x="534.8" y="154.0" font-size="9.0" fill="#111" text-anchor="start" font-weight="normal" font-style="normal" >m</text>
<line x1="521.20" y1="143.30" x2="511.59" y2="136.02" stroke="#111" stroke-width="1.2"/>
<polygon points="508.40,133.60 513.32,134.56 510.66,138.07" fill="#111"/>
</svg>
</body></html>
